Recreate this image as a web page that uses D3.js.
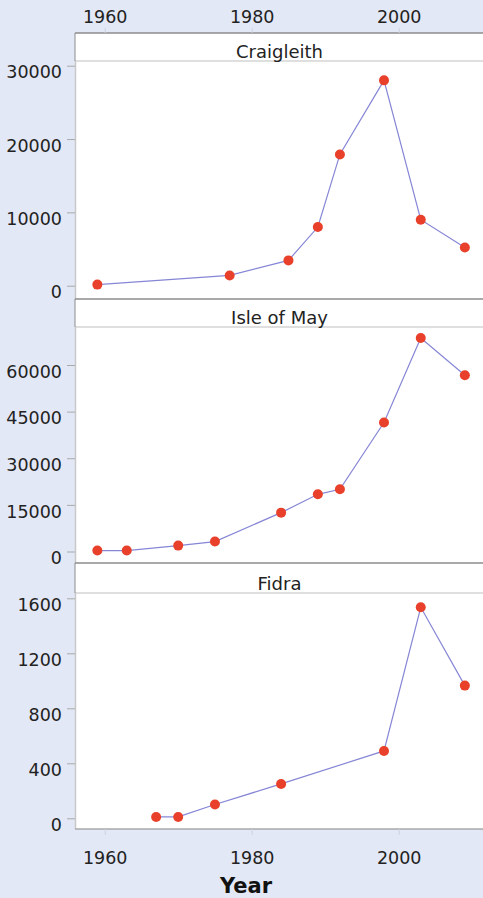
<!DOCTYPE html>
<html>
<head>
<meta charset="utf-8">
<script src="https://cdn.jsdelivr.net/npm/d3@7"></script>
<style>
  html, body { margin: 0; padding: 0; background: #e2e8f5; }
  svg { display: block; font-family: "DejaVu Sans", sans-serif; }
</style>
</head>
<body>
<div id="chart"></div>
<script>
// colony counts
const craigleithYears = [1959, 1977, 1985, 1989, 1992, 1998, 2003, 2009];
const craigleithCounts = [150, 1400, 3450, 8000, 17900, 28000, 9000, 5200];

const mayYears = [1959, 1963, 1970, 1975, 1984, 1989, 1992, 1998, 2003, 2009];
const mayCounts = [300, 300, 1900, 3200, 12500, 18400, 20000, 41500, 68700, 56700];

const fidraYears = [1967, 1970, 1975, 1984, 1998, 2003, 2009];
const fidraCounts = [10, 10, 100, 250, 490, 1535, 965];

const xTicks = [1960, 1980, 2000];
const craigleithTicks = [0, 10000, 20000, 30000];
const mayTicks = [0, 15000, 30000, 45000, 60000];
const fidraTicks = [0, 400, 800, 1200, 1600];

const width = 483;
const height = 898;
const left = 75;
const right = 490;

const svg = d3.select("#chart")
    .append("svg")
    .attr("width", width)
    .attr("height", height);

const x = d3.scaleLinear()
    .domain([1960, 2000])
    .range([104.7, 398.7]);

// each panel: top of header, bottom of header, bottom of plot, and where 0 / top tick land
const panels = [
    {name: "Craigleith", years: craigleithYears, counts: craigleithCounts, ticks: craigleithTicks,
     top: 33, head: 61, bottom: 299, y0: 285.7, y1: 65.7},
    {name: "Isle of May", years: mayYears, counts: mayCounts, ticks: mayTicks,
     top: 299, head: 327, bottom: 563, y0: 551.5, y1: 365},
    {name: "Fidra", years: fidraYears, counts: fidraCounts, ticks: fidraTicks,
     top: 563, head: 593, bottom: 829, y0: 818.3, y1: 598.3}
];

panels.forEach(function(p) {
    const g = svg.append("g");
    const y = d3.scaleLinear()
        .domain([0, d3.max(p.ticks)])
        .range([p.y0, p.y1]);

    // header strip + plot area
    g.append("rect")
        .attr("x", left).attr("y", p.top)
        .attr("width", right - left).attr("height", p.bottom - p.top)
        .attr("fill", "#fff");
    g.append("line")
        .attr("x1", left).attr("x2", right)
        .attr("y1", p.head).attr("y2", p.head)
        .attr("stroke", "#d4d4d4").attr("stroke-width", 1.5);
    g.append("line")
        .attr("x1", left).attr("x2", right)
        .attr("y1", p.top).attr("y2", p.top)
        .attr("stroke", "#8c8c8c").attr("stroke-width", 1.5);
    g.append("line")
        .attr("x1", left).attr("x2", left)
        .attr("y1", p.top).attr("y2", p.head)
        .attr("stroke", "#8c8c8c").attr("stroke-width", 1);
    g.append("line")
        .attr("x1", left + 0.5).attr("x2", left + 0.5)
        .attr("y1", p.head).attr("y2", p.bottom)
        .attr("stroke", "#c8c8c8").attr("stroke-width", 1.5);

    g.append("text")
        .attr("x", (left + right) / 2 - 3)
        .attr("y", p.head - 3)
        .attr("text-anchor", "middle")
        .attr("font-size", 18)
        .attr("fill", "#222")
        .text(p.name);

    // y axis
    const yAxis = g.append("g")
        .attr("transform", `translate(${left},0)`)
        .call(d3.axisLeft(y).tickValues(p.ticks).tickSize(8).tickPadding(5).tickFormat(d3.format("d")));
    yAxis.select(".domain").remove();
    yAxis.selectAll(".tick line").attr("stroke", "#aaa");
    yAxis.selectAll(".tick text")
        .attr("font-size", 17.5)
        .attr("font-family", "DejaVu Sans, sans-serif")
        .attr("fill", "#222")
        .attr("dy", "0.7em");

    const line = d3.line()
        .x((d, i) => x(p.years[i]))
        .y(d => y(d));

    g.append("path")
        .datum(p.counts)
        .attr("d", line)
        .attr("fill", "none")
        .attr("stroke", "#8686d6")
        .attr("stroke-width", 1.2);

    g.selectAll("circle")
        .data(p.counts)
        .enter().append("circle")
        .attr("cx", (d, i) => x(p.years[i]))
        .attr("cy", d => y(d))
        .attr("r", 5)
        .attr("fill", "#e8402a");
});

// bottom border of last panel
svg.append("line")
    .attr("x1", left).attr("x2", right)
    .attr("y1", 829).attr("y2", 829)
    .attr("stroke", "#a8a8a8").attr("stroke-width", 1.5);

// top and bottom year axes
const topAxis = svg.append("g")
    .attr("transform", "translate(0,33)")
    .call(d3.axisTop(x).tickValues(xTicks).tickSize(5).tickPadding(5).tickFormat(d3.format("d")));
const bottomAxis = svg.append("g")
    .attr("transform", "translate(0,829)")
    .call(d3.axisBottom(x).tickValues(xTicks).tickSize(6).tickPadding(17).tickFormat(d3.format("d")));

[topAxis, bottomAxis].forEach(function(a) {
    a.select(".domain").remove();
    a.selectAll(".tick line").attr("stroke", "#ccd2e0");
    a.selectAll(".tick text")
        .attr("font-size", 17.5)
        .attr("font-family", "DejaVu Sans, sans-serif")
        .attr("fill", "#222");
});

svg.append("text")
    .attr("x", 246)
    .attr("y", 893)
    .attr("text-anchor", "middle")
    .attr("font-size", 21)
    .attr("font-weight", "bold")
    .attr("fill", "#111")
    .text("Year");
</script>
</body>
</html>
